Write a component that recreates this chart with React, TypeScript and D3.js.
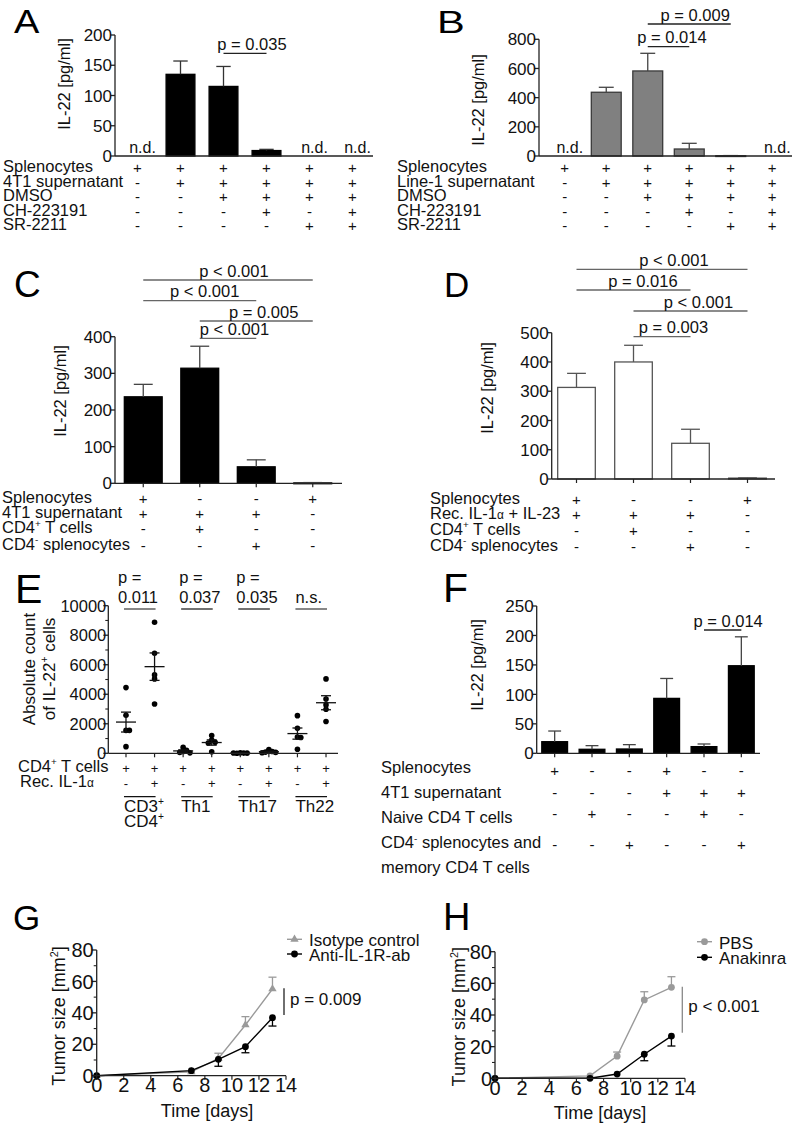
import React from "react";
import * as d3 from "d3";

const FONT = "'Liberation Sans', Arial, Helvetica, sans-serif";

// ---------------- DATA ----------------
// Panel A
const catsA = ["A1", "A2", "A3", "A4", "A5", "A6"];
const meanA = [0, 135, 115, 9, 0, 0];
const errTopA = [0, 157, 148, 11, 0, 0];
const ndA = [true, false, false, false, true, true];
const ticksA = [0, 50, 100, 150, 200];
const rowsA = ["Splenocytes", "4T1 supernatant", "DMSO", "CH-223191", "SR-2211"];
const signsA = ["++++++", "-+++++", "--++++", "---+-+", "----++"];
const sigsA = [{ from: 2, to: 3, label: "p = 0.035" }];

// Panel B
const catsB = ["B1", "B2", "B3", "B4", "B5", "B6"];
const meanB = [0, 437, 583, 48, 2, 0];
const errTopB = [0, 471, 704, 87, 3, 0];
const ndB = [true, false, false, false, false, true];
const ticksB = [0, 200, 400, 600, 800];
const rowsB = ["Splenocytes", "Line-1 supernatant", "DMSO", "CH-223191", "SR-2211"];
const signsB = ["++++++", "-+++++", "--++++", "---+-+", "----++"];
const sigsB = [
  { from: 2, to: 3, label: "p = 0.014" },
  { from: 2, to: 4, label: "p = 0.009" },
];

// Panel C
const catsC = ["C1", "C2", "C3", "C4"];
const meanC = [236, 314, 45, 1];
const errTopC = [270, 374, 64, 2];
const ticksC = [0, 100, 200, 300, 400];
const rowsC = ["Splenocytes", "4T1 supernatant", "CD4^{+} T cells", "CD4^{-} splenocytes"];
const signsC = ["+--+", "+++-", "-+--", "--+-"];
const sigsC = [
  { from: 0, to: 3, label: "p < 0.001" },
  { from: 0, to: 2, label: "p < 0.001" },
  { from: 1, to: 3, label: "p = 0.005" },
  { from: 1, to: 2, label: "p < 0.001" },
];

// Panel D
const catsD = ["D1", "D2", "D3", "D4"];
const meanD = [313, 400, 122, 3];
const errTopD = [361, 457, 170, 4];
const ticksD = [0, 100, 200, 300, 400, 500];
const rowsD = ["Splenocytes", "Rec. IL-1~{α} + IL-23", "CD4^{+} T cells", "CD4^{-} splenocytes"];
const signsD = ["+--+", "+++-", "-+--", "--+-"];
const sigsD = [
  { from: 0, to: 3, label: "p < 0.001" },
  { from: 0, to: 2, label: "p = 0.016" },
  { from: 1, to: 3, label: "p < 0.001" },
  { from: 1, to: 2, label: "p = 0.003" },
];

// Panel E
const groupsE = ["CD3-", "CD3+", "Th1-", "Th1+", "Th17-", "Th17+", "Th22-", "Th22+"];
const pointsE = [
  [4450, 2580, 1550, 1550, 450],
  [8880, 6780, 5310, 5040, 3340],
  [400, 200, 120, 60, 30],
  [1200, 900, 750, 700, 100],
  [30, 15, 5, 10, 20],
  [250, 120, 80, 60, 40],
  [2550, 1690, 1100, 1070, 270],
  [5040, 3680, 3280, 2980, 2150],
];
const ticksE = [0, 2000, 4000, 6000, 8000, 10000];
const minorTicksE = [1000, 3000, 5000, 7000, 9000];
const rowsE = ["CD4^{+} T cells", "Rec. IL-1~{α}"];
const signsE = ["++++++++", "-+-+-+-+"];
const pLabelsE = [["p =", "0.011"], ["p =", "0.037"], ["p =", "0.035"], ["", "n.s."]];
const subsetsE = [["CD3^{+}", "CD4^{+}"], ["Th1"], ["Th17"], ["Th22"]];

// Panel F
const catsF = ["F1", "F2", "F3", "F4", "F5", "F6"];
const meanF = [19.7, 6.8, 7.3, 93.2, 11.3, 148.6];
const errTopF = [37.8, 13, 14.7, 127, 15.8, 197.7];
const ticksF = [0, 50, 100, 150, 200, 250];
const rowsF = ["Splenocytes", "4T1 supernatant", "Naive CD4 T cells", "CD4^{-} splenocytes and", "memory CD4 T cells"];
const signsF = ["+--+--", "---+++", "-+--+-", "--+--+"];
const sigsF = [{ from: 4, to: 5, label: "p = 0.014" }];

// Panel G
const daysG = [0, 7, 9, 11, 13];
const isotypeMean = [0, 2.5, 11, 32.3, 55.2];
const isotypeErr = [0, 0.5, 3.3, 5.3, 7.5];
const antiMean = [0, 3.2, 10.4, 18.5, 36.9];
const antiErr = [0, 0.5, 4.4, 3.9, 5.3];

// Panel H
const daysH = [0, 7, 9, 11, 13];
const pbsMean = [0, 1.5, 14, 49.5, 57.5];
const pbsErr = [0, 0.5, 2.6, 5.2, 6.7];
const anakinraMean = [0, 0, 2.7, 15.2, 26.7];
const anakinraErr = [0, 0, 0.5, 4.1, 6.3];

const tumorYTicks = [0, 20, 40, 60, 80];
const tumorYMinor = [10, 30, 50, 70];
const tumorXTicks = [0, 2, 4, 6, 8, 10, 12, 14];

// ---------------- HELPERS ----------------
function Rich({ text, x, y, size, anchor = "start", fill = "#111", rotate = false }: any) {
  const parts = text.split(/(\^\{[^}]*\}|~\{[^}]*\})/).filter((s: string) => s.length > 0);
  let shift = 0;
  const kids = parts.map((p: string, i: number) => {
    if (p.startsWith("^{")) {
      const s = -size * 0.4;
      const el = (
        <tspan key={i} fontSize={size * 0.6} dy={s - shift}>
          {p.slice(2, -1)}
        </tspan>
      );
      shift = s;
      return el;
    }
    const small = p.startsWith("~{");
    const content = small ? p.slice(2, -1) : p;
    const el = (
      <tspan key={i} fontSize={small ? size * 0.72 : undefined} dy={-shift}>
        {content}
      </tspan>
    );
    shift = 0;
    return el;
  });
  return (
    <text
      x={x}
      y={y}
      fontSize={size}
      textAnchor={anchor}
      fill={fill}
      style={{ whiteSpace: "pre" }}
      transform={rotate ? `rotate(-90 ${x} ${y})` : undefined}
    >
      {kids}
    </text>
  );
}

function Letter({ ch, x, y, size, sx = 1 }: any) {
  return (
    <text transform={`translate(${x},${y}) scale(${sx},1)`} fontSize={size} fill="#000">
      {ch}
    </text>
  );
}

const AX = "#222";
const ROW_FONT = 16.5;

// ---------------- BAR PANEL ----------------
function BarPanel({ d, L }: any) {
  const x = d3
    .scaleBand<string>()
    .domain(d.cats)
    .range(L.xRange)
    .paddingInner(L.pad)
    .paddingOuter(L.pad / 2);
  const y = d3
    .scaleLinear()
    .domain([0, d.ticks[d.ticks.length - 1]])
    .range([L.y0, L.yTop]);
  const bw = x.bandwidth();
  const cx = (i: number) => (x(d.cats[i]) as number) + bw / 2;
  return (
    <g>
      <Letter ch={L.letter} x={L.letterX} y={L.letterY} size={L.letterSize} sx={L.letterSx || 1} />
      {d.mean.map((v: number, i: number) =>
        d.nd && d.nd[i] ? null : (
          <rect
            key={"b" + i}
            x={x(d.cats[i])}
            y={y(v)}
            width={bw}
            height={Math.max(0.8, L.y0 - y(v))}
            fill={L.fill}
            stroke={L.stroke}
            strokeWidth={1.3}
          />
        )
      )}
      {d.mean.map((v: number, i: number) =>
        d.nd && d.nd[i] ? null : (
          <g key={"e" + i} stroke={L.errColor} strokeWidth={1.3}>
            <line x1={cx(i)} x2={cx(i)} y1={y(v)} y2={y(d.errTop[i])} />
            <line x1={cx(i) - bw / 4} x2={cx(i) + bw / 4} y1={y(d.errTop[i])} y2={y(d.errTop[i])} />
          </g>
        )
      )}
      {d.nd &&
        d.nd.map((n: boolean, i: number) =>
          n ? (
            <text key={"nd" + i} x={cx(i) + 5} y={L.y0 - 3} fontSize={16} textAnchor="middle" fill="#111">
              n.d.
            </text>
          ) : null
        )}
      {/* y axis */}
      <line x1={L.axisX} x2={L.axisX} y1={y(d.ticks[d.ticks.length - 1])} y2={L.y0} stroke={AX} strokeWidth={1.3} />
      {d.ticks.map((t: number) => (
        <g key={"t" + t}>
          <line x1={L.axisX - 4} x2={L.axisX} y1={y(t)} y2={y(t)} stroke={AX} strokeWidth={1.3} />
          <text x={L.axisX - 3} y={y(t)} dy="0.36em" fontSize={17} textAnchor="end" fill="#111">
            {t}
          </text>
        </g>
      ))}
      {/* x axis */}
      <line x1={L.axisX} x2={L.axisEnd} y1={L.y0} y2={L.y0} stroke={AX} strokeWidth={1.3} />
      {L.xTicks &&
        d.cats.map((c: string, i: number) => (
          <line key={"xt" + i} x1={cx(i)} x2={cx(i)} y1={L.y0} y2={L.y0 + 4} stroke={AX} strokeWidth={1.2} />
        ))}
      {/* y label */}
      <Rich text="IL-22 [pg/ml]" x={L.yLabelX} y={L.yLabelY} size={16.5} anchor="middle" rotate />
      {/* significance */}
      {d.sigs.map((s: any, k: number) => {
        const x1 = cx(s.from);
        const x2 = cx(s.to);
        const ly = L.sigY[k];
        return (
          <g key={"s" + k}>
            <line x1={x1} x2={x2} y1={ly} y2={ly} stroke={L.sigColor} strokeWidth={1.3} />
            <text x={(x1 + x2) / 2 + L.sigDx[k]} y={ly - 3.5} fontSize={16.5} textAnchor="middle" fill="#111">
              {s.label}
            </text>
          </g>
        );
      })}
      {/* table */}
      {d.rows.map((r: string, k: number) => (
        <g key={"r" + k}>
          <Rich text={r} x={L.rowX} y={L.rowY[k]} size={ROW_FONT} />
          {k < d.signs.length &&
            d.signs[k].split("").map((s: string, i: number) => (
              <text
                key={i}
                x={cx(i)}
                y={(L.signY || L.rowY)[k] + 1}
                fontSize={15}
                textAnchor="middle"
                fill="#111"
              >
                {s}
              </text>
            ))}
        </g>
      ))}
    </g>
  );
}

// ---------------- DOT PANEL E ----------------
function swarm(vals: number[], ys: (v: number) => number, step: number, minDist: number) {
  const placed: { x: number; y: number }[] = [];
  return vals.map((v) => {
    const py = ys(v);
    const cand = [0];
    for (let k = 1; k < 14; k++) cand.push(k * step, -k * step);
    for (const dx of cand) {
      if (placed.every((p) => Math.hypot(p.x - dx, p.y - py) >= minDist)) {
        placed.push({ x: dx, y: py });
        return dx;
      }
    }
    return 0;
  });
}

function PanelE() {
  const axisX = 108.3;
  const y0 = 753.3;
  const x = d3.scaleBand<string>().domain(groupsE).range([111.7, 340.3]);
  const y = d3.scaleLinear().domain([0, 10000]).range([y0, 605.7]);
  const cx = (i: number) => (x(groupsE[i]) as number) + x.bandwidth() / 2;
  const r = 2.8;
  return (
    <g>
      <Letter ch="E" x={15} y={603} size={41} />
      {pointsE.map((vals, i) => {
        const offs = swarm(vals, (v) => y(v), 3.4, 3.3);
        const m = d3.mean(vals) as number;
        const sem = (d3.deviation(vals) as number) / Math.sqrt(vals.length);
        return (
          <g key={"g" + i}>
            {vals.map((v, j) => (
              <circle key={j} cx={cx(i) + offs[j]} cy={y(v)} r={r} fill="#000" />
            ))}
            <g stroke="#111" strokeWidth={1.3}>
              <line x1={cx(i) - 10} x2={cx(i) + 10} y1={y(m)} y2={y(m)} />
              <line x1={cx(i)} x2={cx(i)} y1={y(m - sem)} y2={y(m + sem)} />
              <line x1={cx(i) - 5} x2={cx(i) + 5} y1={y(m + sem)} y2={y(m + sem)} />
              <line x1={cx(i) - 5} x2={cx(i) + 5} y1={y(m - sem)} y2={y(m - sem)} />
            </g>
          </g>
        );
      })}
      <line x1={axisX} x2={axisX} y1={y(10000)} y2={y0} stroke={AX} strokeWidth={1.3} />
      {ticksE.map((t) => (
        <g key={t}>
          <line x1={axisX - 5} x2={axisX} y1={y(t)} y2={y(t)} stroke={AX} strokeWidth={1.3} />
          <text x={axisX - 2} y={y(t)} dy="0.36em" fontSize={16.5} textAnchor="end" fill="#111">
            {t}
          </text>
        </g>
      ))}
      {minorTicksE.map((t) => (
        <line key={"m" + t} x1={axisX - 3} x2={axisX} y1={y(t)} y2={y(t)} stroke={AX} strokeWidth={1.1} />
      ))}
      <line x1={axisX} x2={338} y1={y0} y2={y0} stroke={AX} strokeWidth={1.3} />
      {groupsE.map((g, i) => (
        <line key={"xt" + i} x1={cx(i)} x2={cx(i)} y1={y0} y2={y0 + 4} stroke={AX} strokeWidth={1.2} />
      ))}
      <Rich text="Absolute count" x={35} y={669} size={17} anchor="middle" rotate />
      <Rich text="of IL-22^{+} cells" x={55} y={669} size={17} anchor="middle" rotate />
      {pLabelsE.map((p, k) => {
        const x1 = cx(2 * k) - 2;
        const x2 = cx(2 * k + 1) + 1;
        const tx = k === 0 ? x1 - 6 : k === 3 ? x1 : x1 - 2;
        return (
          <g key={"p" + k}>
            <line x1={x1} x2={x2} y1={609} y2={609} stroke="#111" strokeWidth={1.2} />
            {p[0] && (
              <text x={tx} y={583} fontSize={16.5} fill="#111">
                {p[0]}
              </text>
            )}
            <text x={tx} y={603} fontSize={16.5} fill="#111">
              {p[1]}
            </text>
          </g>
        );
      })}
      {rowsE.map((r, k) => (
        <g key={"r" + k}>
          <Rich text={r} x={k === 0 ? 18 : 20} y={k === 0 ? 771.7 : 786.7} size={ROW_FONT} />
          {signsE[k].split("").map((s, i) => (
            <text key={i} x={cx(i)} y={(k === 0 ? 771.7 : 786.7) + 1} fontSize={13} textAnchor="middle" fill="#111">
              {s}
            </text>
          ))}
        </g>
      ))}
      {subsetsE.map((lines, k) => {
        const x1 = cx(2 * k) - 2;
        const x2 = cx(2 * k + 1) + 1;
        return (
          <g key={"sub" + k}>
            <line x1={x1} x2={x2} y1={796.7} y2={796.7} stroke="#111" strokeWidth={1.2} />
            {lines.map((t, j) => (
              <Rich key={j} text={t} x={x1} y={811.7 + j * 15} size={17} />
            ))}
          </g>
        );
      })}
    </g>
  );
}

// ---------------- LINE PANELS G / H ----------------
function LinePanel({ L, days, series, legend, sig }: any) {
  const x = d3.scaleLinear().domain([0, 14]).range([L.axisX, L.xEnd]);
  const y = d3.scaleLinear().domain([0, 80]).range([L.y0, L.yTop]);
  const line = d3
    .line<number>()
    .x((_, i) => x(days[i]))
    .y((v) => y(v));
  const marker = (kind: string, mx: number, my: number, color: string, key: any) =>
    kind === "tri" ? (
      <path key={key} d={d3.symbol(d3.symbolTriangle, 30)() as string} transform={`translate(${mx},${my})`} fill={color} />
    ) : (
      <circle key={key} cx={mx} cy={my} r={3.4} fill={color} />
    );
  return (
    <g>
      <Letter ch={L.letter} x={L.letterX} y={L.letterY} size={L.letterSize} />
      {series.map((s: any, si: number) => (
        <g key={"s" + si}>
          <path d={line(s.mean) as string} fill="none" stroke={s.color} strokeWidth={1.4} />
          {s.mean.map((m: number, i: number) =>
            s.err[i] > 0.8 ? (
              <g key={"e" + i} stroke={s.color} strokeWidth={1.3}>
                <line x1={x(days[i])} x2={x(days[i])} y1={y(m)} y2={y(m + s.dir * s.err[i])} />
                <line
                  x1={x(days[i]) - 4}
                  x2={x(days[i]) + 4}
                  y1={y(m + s.dir * s.err[i])}
                  y2={y(m + s.dir * s.err[i])}
                />
              </g>
            ) : null
          )}
          {s.mean.map((m: number, i: number) => marker(s.marker, x(days[i]), y(m), s.color, "m" + i))}
        </g>
      ))}
      {/* axes */}
      <line x1={L.axisX} x2={L.axisX} y1={y(80)} y2={L.y0} stroke={AX} strokeWidth={1.3} />
      {tumorYTicks.map((t) => (
        <g key={"yt" + t}>
          <line x1={L.axisX - 5} x2={L.axisX} y1={y(t)} y2={y(t)} stroke={AX} strokeWidth={1.3} />
          <text x={L.axisX - 3} y={y(t)} dy="0.36em" fontSize={20} textAnchor="end" fill="#111">
            {t}
          </text>
        </g>
      ))}
      {tumorYMinor.map((t) => (
        <line key={"ym" + t} x1={L.axisX - 3} x2={L.axisX} y1={y(t)} y2={y(t)} stroke={AX} strokeWidth={1.1} />
      ))}
      <line x1={L.axisX} x2={L.xEnd} y1={L.y0} y2={L.y0} stroke={AX} strokeWidth={1.3} />
      {tumorXTicks.map((t) => (
        <g key={"xt" + t}>
          <line x1={x(t)} x2={x(t)} y1={L.y0} y2={L.y0 + 4} stroke={AX} strokeWidth={1.2} />
          <text x={x(t)} y={L.y0 + 16.5} fontSize={20} textAnchor="middle" fill="#111">
            {t}
          </text>
        </g>
      ))}
      <text x={L.xLabelX} y={L.xLabelY} fontSize={18} textAnchor="middle" fill="#111">
        Time [days]
      </text>
      <Rich text="Tumor size [mm^{2}]" x={L.yLabelX} y={L.yLabelY} size={18} anchor="middle" rotate />
      {/* legend */}
      {legend.map((lg: any, k: number) => (
        <g key={"lg" + k}>
          <line x1={L.legX} x2={L.legX + 15} y1={L.legY[k]} y2={L.legY[k]} stroke={lg.color} strokeWidth={1.4} />
          {marker(lg.marker, L.legX + 7.5, L.legY[k], lg.color, "lm" + k)}
          <text x={L.legX + 22} y={L.legY[k] + 7} fontSize={17} fill="#111">
            {lg.label}
          </text>
        </g>
      ))}
      {/* significance */}
      <line x1={sig.x} x2={sig.x} y1={sig.y1} y2={sig.y2} stroke={sig.color} strokeWidth={1.3} />
      <text x={sig.x + 6} y={sig.ty} fontSize={17} fill="#111">
        {sig.label}
      </text>
    </g>
  );
}

// ---------------- LAYOUTS ----------------
const layoutA = {
  letter: "A", letterX: 14, letterY: 33, letterSize: 33, letterSx: 1.15,
  axisX: 115, y0: 156, yTop: 35, xRange: [116, 374], axisEnd: 373, pad: 0.33,
  fill: "#000", stroke: "#000", errColor: "#333", sigColor: "#222", xTicks: false,
  yLabelX: 70, yLabelY: 84,
  rowX: 3, rowY: [171.7, 186.7, 201, 215.5, 230.2],
  sigY: [53.3], sigDx: [7],
};
const layoutB = {
  letter: "B", letterX: 437, letterY: 33, letterSize: 32, letterSx: 1.3,
  axisX: 539, y0: 156, yTop: 39.3, xRange: [544, 793], axisEnd: 792, pad: 0.28,
  fill: "#808080", stroke: "#3a3a3a", errColor: "#444", sigColor: "#222", xTicks: false,
  yLabelX: 484, yLabelY: 100,
  rowX: 397, rowY: [171.7, 186.7, 201, 215.5, 230.2],
  sigY: [46.7, 24], sigDx: [3.5, 6],
};
const layoutC = {
  letter: "C", letterX: 14, letterY: 297, letterSize: 37,
  axisX: 115, y0: 483.3, yTop: 336.7, xRange: [115, 341], axisEnd: 342, pad: 0.33,
  fill: "#000", stroke: "#000", errColor: "#444", sigColor: "#666", xTicks: true,
  yLabelX: 66, yLabelY: 391,
  rowX: 2, rowY: [503.3, 517.8, 533.3, 550],
  sigY: [280, 300.7, 321, 338.3], sigDx: [6, 5, 7.5, 6.5],
};
const layoutD = {
  letter: "D", letterX: 444, letterY: 297, letterSize: 35,
  axisX: 551.7, y0: 479, yTop: 332.7, xRange: [548, 776], axisEnd: 775, pad: 0.34,
  fill: "#fff", stroke: "#555", errColor: "#555", sigColor: "#666", xTicks: true,
  yLabelX: 493, yLabelY: 388,
  rowX: 430, rowY: [504, 519.3, 535, 550.7],
  sigY: [269.3, 290, 311, 336.7], sigDx: [12, 9.5, 8, 11.5],
};
const layoutF = {
  letter: "F", letterX: 443, letterY: 602, letterSize: 41,
  axisX: 536.7, y0: 753.3, yTop: 606, xRange: [536, 760], axisEnd: 760, pad: 0.31,
  fill: "#000", stroke: "#000", errColor: "#444", sigColor: "#222", xTicks: true,
  yLabelX: 483, yLabelY: 665,
  rowX: 381, rowY: [773.3, 798.3, 823.3, 848.3, 873.3], signY: [774.5, 797, 818, 848.5],
  sigY: [630], sigDx: [5.5],
};
const layoutG = {
  letter: "G", letterX: 13, letterY: 930, letterSize: 35,
  axisX: 96.7, xEnd: 286, y0: 1075.7, yTop: 950,
  xLabelX: 207, xLabelY: 1116.7, yLabelX: 65, yLabelY: 1016,
  legX: 287, legY: [939.3, 954],
};
const layoutH = {
  letter: "H", letterX: 443, letterY: 930, letterSize: 38,
  axisX: 495, xEnd: 685, y0: 1078.3, yTop: 951.7,
  xLabelX: 600, xLabelY: 1119.3, yLabelX: 465, yLabelY: 1016.7,
  legX: 697, legY: [941.7, 957.3],
};

const GREY = "#9a9a9a";

export default function App() {
  const dA = { cats: catsA, mean: meanA, errTop: errTopA, nd: ndA, ticks: ticksA, rows: rowsA, signs: signsA, sigs: sigsA };
  const dB = { cats: catsB, mean: meanB, errTop: errTopB, nd: ndB, ticks: ticksB, rows: rowsB, signs: signsB, sigs: sigsB };
  const dC = { cats: catsC, mean: meanC, errTop: errTopC, ticks: ticksC, rows: rowsC, signs: signsC, sigs: sigsC };
  const dD = { cats: catsD, mean: meanD, errTop: errTopD, ticks: ticksD, rows: rowsD, signs: signsD, sigs: sigsD };
  const dF = { cats: catsF, mean: meanF, errTop: errTopF, ticks: ticksF, rows: rowsF, signs: signsF, sigs: sigsF };
  return (
    <svg
      width={793}
      height={1125}
      viewBox="0 0 793 1125"
      style={{ position: "absolute", left: 0, top: 0, fontFamily: FONT }}
    >
      <rect width={793} height={1125} fill="#fff" />
      <BarPanel d={dA} L={layoutA} />
      <BarPanel d={dB} L={layoutB} />
      <BarPanel d={dC} L={layoutC} />
      <BarPanel d={dD} L={layoutD} />
      <PanelE />
      <BarPanel d={dF} L={layoutF} />
      <LinePanel
        L={layoutG}
        days={daysG}
        series={[
          { mean: isotypeMean, err: isotypeErr, dir: 1, color: GREY, marker: "tri" },
          { mean: antiMean, err: antiErr, dir: -1, color: "#000", marker: "circle" },
        ]}
        legend={[
          { label: "Isotype control", color: GREY, marker: "tri" },
          { label: "Anti-IL-1R-ab", color: "#000", marker: "circle" },
        ]}
        sig={{ x: 284, y1: 988.3, y2: 1015, ty: 1005, label: "p = 0.009", color: "#222" }}
      />
      <LinePanel
        L={layoutH}
        days={daysH}
        series={[
          { mean: pbsMean, err: pbsErr, dir: 1, color: GREY, marker: "circle" },
          { mean: anakinraMean, err: anakinraErr, dir: -1, color: "#000", marker: "circle" },
        ]}
        legend={[
          { label: "PBS", color: GREY, marker: "circle" },
          { label: "Anakinra", color: "#000", marker: "circle" },
        ]}
        sig={{ x: 682.3, y1: 986.7, y2: 1032.7, ty: 1011.7, label: "p < 0.001", color: "#888" }}
      />
    </svg>
  );
}
